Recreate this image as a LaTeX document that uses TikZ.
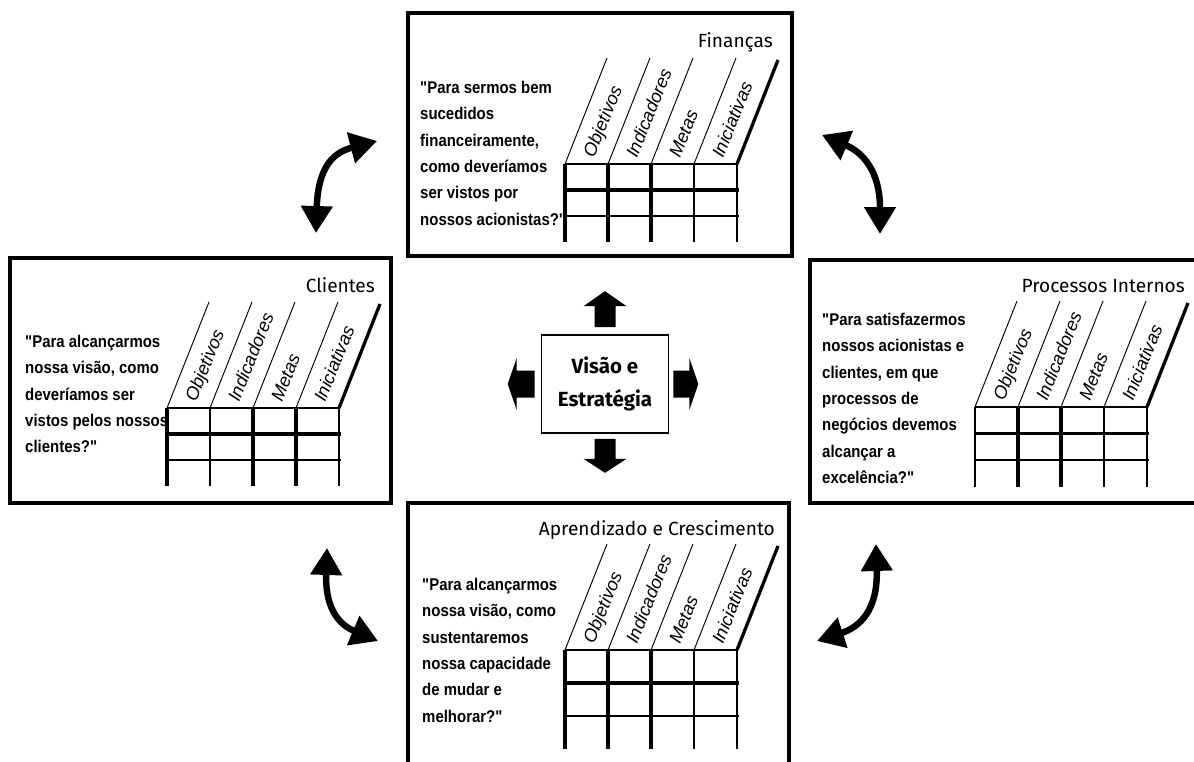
\documentclass[tikz,border=0pt]{standalone}
\usepackage{fontspec}
\setmainfont{Liberation Sans}
\newfontfamily\titulofont{Fira Sans}
\newfontfamily\frasefont[FakeStretch=0.88]{Liberation Sans}
\usetikzlibrary{arrows.meta}
\newcommand{\grade}[3]{\foreach \colu in {0,...,4}
					\draw[linhafina] (\colu*43,0) -- (\colu*43,3*#1);
					\foreach \colu in {#2}
					\draw[linhagrossa] (\colu*43,0) -- (\colu*43,3*#1);
					\draw[linhamedia] (0,0) -- (172,0);
					\draw[linhagrossa] (0,#1) -- (174,#1);
					\draw[linhafina] (0,2*#1) -- (174,2*#1);
					\foreach \colu in {0,...,3}
					\draw[linhaobliqua] (\colu*43,0) -- ++(42,-106);
					\draw[linhagrossa] (172,0) -- ++(41,-104);
					\foreach \colu/\rotulo in {0/Objetivos,1/Indicadores,2/Metas,3/Iniciativas}
					\node[coluna] (#3-\colu) at (\colu*43+29,-5) {\rotulo};}

\begin{document}
\begin{tikzpicture}[x=0.03cm, y=-0.03cm,
	caixa/.style={line width=2.6pt},
	linhafina/.style={line width=1.1pt},
	linhamedia/.style={line width=1.7pt},
	linhagrossa/.style={line width=2.8pt},
	linhaobliqua/.style={line width=0.8pt},
	coluna/.style={font=\itshape\fontsize{15.5}{16}\selectfont, rotate=68, anchor=base west, inner sep=0pt},
	titulo/.style={font=\titulofont\fontsize{16.3}{18}\selectfont, anchor=base east, inner sep=0pt},
	frase/.style={font=\frasefont\bfseries\fontsize{14.5}{22.5}\selectfont, align=left, anchor=north west, inner sep=0pt},
	setadupla/.style={line width=5.5pt, >={Triangle[length=23pt,width=26pt]}, <->}]
				
				\clip (0,0) rectangle (1194,762);
				
				\draw[caixa] (408,13) rectangle (792,256);
				\node[titulo] (financas) at (773,48) {Finanças};
				\node[frase] (financas-frase) at (420,81) {"Para sermos bem\\sucedidos\\financeiramente,\\como deveríamos\\ser vistos por\\nossos acionistas?"};
				\begin{scope}[shift={(565,164)}]
					\grade{26}{0,1,2}{fin}
				\end{scope}
				
				\draw[caixa] (10,258) rectangle (391,503);
				\node[titulo] (clientes) at (375,292) {Clientes};
				\node[frase] (clientes-frase) at (25,335) {"Para alcançarmos\\nossa visão, como\\deveríamos ser\\vistos pelos nossos\\clientes?"};
				\begin{scope}[shift={(167,408)}]
					\grade{26}{0,2,3}{cli}
				\end{scope}
				
				\draw[caixa] (810,260) rectangle (1215,503);
				\node[titulo] (processos) at (1185,292) {Processos Internos};
				\node[frase] (processos-frase) at (822,313) {"Para satisfazermos\\nossos acionistas e\\clientes, em que\\processos de\\negócios devemos\\alcançar a\\excelência?"};
				\begin{scope}[shift={(975,407)}]
					\grade{26.5}{1,2}{pro}
				\end{scope}
				
				\draw[caixa] (408,503) rectangle (789,790);
				\node[titulo] (aprendizado) at (775,535) {Aprendizado e Crescimento};
				\node[frase] (aprendizado-frase) at (422,578) {"Para alcançarmos\\nossa visão, como\\sustentaremos\\nossa capacidade\\de mudar e\\melhorar?"};
				\begin{scope}[shift={(565,650)}]
					\grade{33}{0,1,2}{apr}
				\end{scope}
				
				\node[draw, line width=1.4pt, minimum width=3.81cm, minimum height=2.94cm, align=center, font=\titulofont\bfseries\fontsize{17.5}{28}\selectfont] (visao) at (605,384) {Visão e\\Estratégia};
				\fill (visao.north) ++(-10.5,-7) -- ++(0,-21) -- ++(-11,0) -- ++(21.5,-15) -- ++(21.5,15) -- ++(-11,0) -- ++(0,21) -- cycle;
				\fill (visao.south) ++(-10.5,5) -- ++(0,20) -- ++(-11,0) -- ++(21.5,14) -- ++(21.5,-14) -- ++(-11,0) -- ++(0,-20) -- cycle;
				\fill (visao.west) ++(-6,-13.5) -- ++(-18,0) -- ++(0,-12.5) -- ++(-9,26) -- ++(9,26) -- ++(0,-12.5) -- ++(18,0) -- cycle;
				\fill (visao.east) ++(4,-13.5) -- ++(16,0) -- ++(0,-12.5) -- ++(9,26) -- ++(-9,26) -- ++(0,-12.5) -- ++(-16,0) -- cycle;
				
				\coordinate (cf-a) at (316,233);
				\coordinate (cf-b) at (377,141);
				\coordinate (fp-a) at (822,135);
				\coordinate (fp-b) at (880,234);
				\coordinate (ca-a) at (327,548);
				\coordinate (ca-b) at (378,641);
				\coordinate (pa-a) at (876,544);
				\coordinate (pa-b) at (817,641);
				\draw[setadupla] (cf-a) .. controls (318,165) and (335,152) .. (cf-b);
				\draw[setadupla] (fp-b) .. controls (880,170) and (862,152) .. (fp-a);
				\draw[setadupla] (ca-a) .. controls (325,610) and (340,625) .. (ca-b);
				\draw[setadupla] (pa-a) .. controls (878,610) and (860,627) .. (pa-b);
								
\end{tikzpicture}
\end{document}
